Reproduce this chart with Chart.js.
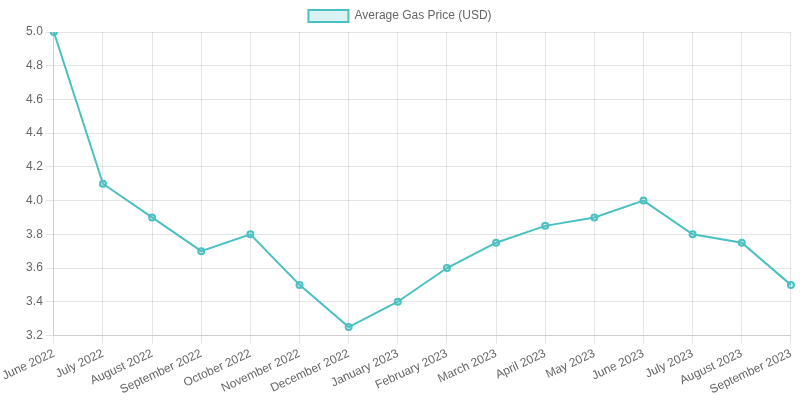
<!DOCTYPE html>
<html>
<head>
  <title>Average Gas Price</title>
  <style>
    body {
      margin: 0;
      padding: 0;
      background-color: #fff;
    }

    #container {
      width: 800px;
      height: 400px;
    }
  </style>
</head>
<body>

<div id="container">
  <canvas id="myChart"></canvas>
</div>

<script src="https://cdn.jsdelivr.net/npm/chart.js"></script>
<script>
  const months = [
    'June 2022', 'July 2022', 'August 2022', 'September 2022', 'October 2022',
    'November 2022', 'December 2022', 'January 2023', 'February 2023', 'March 2023',
    'April 2023', 'May 2023', 'June 2023', 'July 2023', 'August 2023', 'September 2023'
  ];
  const gasPrices = [5.0, 4.1, 3.9, 3.7, 3.8, 3.5, 3.25, 3.4, 3.6, 3.75, 3.85, 3.9, 4.0, 3.8, 3.75, 3.5];

  Chart.defaults.font.family = 'Helvetica, Arial, sans-serif';
  Chart.defaults.color = '#666';

  const ctx = document.getElementById('myChart').getContext('2d');
  const myChart = new Chart(ctx, {
    type: 'line',
    data: {
      labels: months,
      datasets: [{
        label: 'Average Gas Price (USD)',
        data: gasPrices,
        backgroundColor: 'rgba(75, 192, 192, 0.2)',
        borderColor: 'rgba(75, 192, 192, 1)',
        borderWidth: 2,
        pointRadius: 3,
        tension: 0
      }]
    },
    options: {
      responsive: true,
      maintainAspectRatio: false,
      animation: false,
      scales: {
        x: {
          ticks: {
            maxRotation: 25,
            minRotation: 25
          }
        },
        y: {
          min: 3.2,
          max: 5.0,
          ticks: {
            stepSize: 0.2,
            callback: function (value) {
              return value.toFixed(1);
            }
          }
        }
      }
    }
  });
</script>
</body>
</html>
